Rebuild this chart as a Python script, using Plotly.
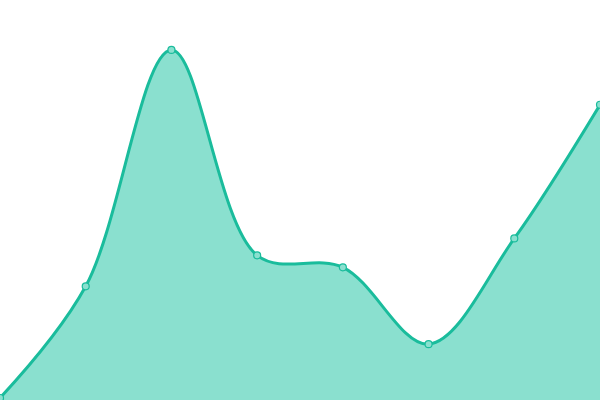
import plotly.graph_objects as go

# points along the curve
x_vals = [0, 1, 2, 3, 4, 5, 6, 7]
y_vals = [2, 114, 351, 145, 133, 56, 162, 296]

line_color = "#1abc9c"
fill_color = "#8ae0cf"

fig = go.Figure()
fig.add_trace(go.Scatter(
    x=x_vals,
    y=y_vals,
    mode="lines+markers",
    line=dict(shape="spline", smoothing=1.0, color=line_color, width=3),
    marker=dict(size=7, color=fill_color, line=dict(color=line_color, width=1.2)),
    fill="tozeroy",
    fillcolor=fill_color,
    cliponaxis=False,
    hoverinfo="skip",
))

fig.update_layout(
    width=600, height=400,
    margin=dict(l=0, r=0, t=0, b=0),
    paper_bgcolor="white",
    plot_bgcolor="white",
    showlegend=False,
    xaxis=dict(visible=False, range=[0, 7], fixedrange=True),
    yaxis=dict(visible=False, range=[0, 401], fixedrange=True),
)

# drop the page's default body margin so the chart sits at 0,0
fig.write_html(
    "out.html",
    config={"displayModeBar": False},
    post_script="document.body.style.margin='0';document.body.style.overflow='hidden';",
)
